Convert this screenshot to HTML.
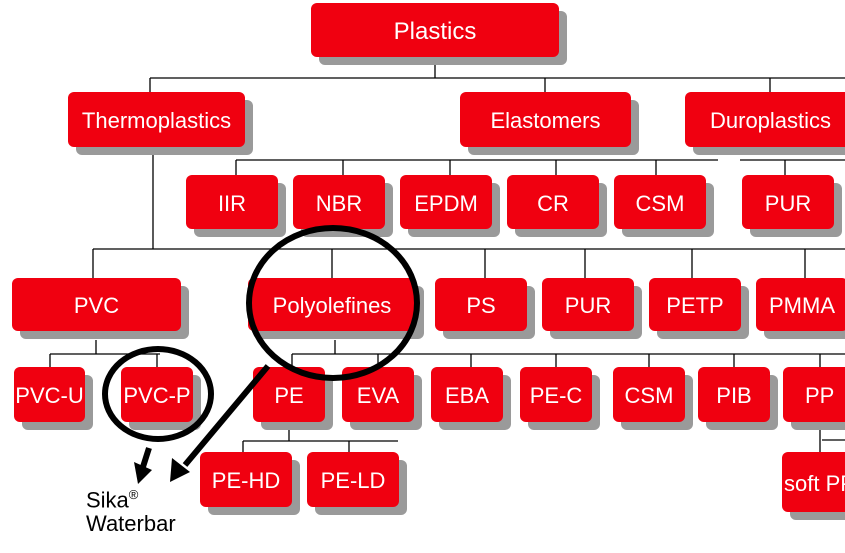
<!DOCTYPE html>
<html><head><meta charset="utf-8"><style>
body{margin:0;width:845px;height:553px;background:#fff;overflow:hidden;position:relative;font-family:"Liberation Sans",sans-serif}
.b{position:absolute;background:#f00010;color:#fff;border-radius:6px;display:flex;align-items:center;justify-content:center;font-size:22px;box-shadow:8px 8px 0 #9a9a9a;white-space:nowrap;overflow:hidden;padding-top:3px;box-sizing:border-box}
svg{position:absolute;left:0;top:0}
.t{position:absolute;font-size:22px;color:#000;line-height:28px}
</style></head><body>
<svg width="845" height="553" style="z-index:0">
<g stroke="#000" stroke-width="1.3" fill="none">
<path d="M435 57V78M150 78H845M150 78V92M545 78V92M770 78V92"/>
<path d="M236 160H718M236 160V175M343 160V175M450 160V175M556 160V175M656 160V175M740 160H845M785 160V175"/>
<path d="M153 155V249M93 249H845M93 249V278M332 249V278M485 249V278M585 249V278M692 249V278M805 249V278"/>
<path d="M96 340V354M50 354H160M50 354V367M157 354V367"/>
<path d="M335 340V354M292 354H845M292 354V367M378 354V367M471 354V367M556 354V367M649 354V367M734 354V367M820 354V367"/>
<path d="M289 430V441M243 441H398M243 441V452M349 441V452"/>
<path d="M820 430V452M822 440H845"/>
</g></svg>
<div class="b" style="left:311px;top:3px;width:248px;height:54px;font-size:24px">Plastics</div>
<div class="b" style="left:68px;top:92px;width:177px;height:55px">Thermoplastics</div>
<div class="b" style="left:460px;top:92px;width:171px;height:55px">Elastomers</div>
<div class="b" style="left:685px;top:92px;width:170px;height:55px;justify-content:flex-start;padding-left:25px">Duroplastics</div>
<div class="b" style="left:186px;top:175px;width:92px;height:54px">IIR</div>
<div class="b" style="left:293px;top:175px;width:92px;height:54px">NBR</div>
<div class="b" style="left:400px;top:175px;width:92px;height:54px">EPDM</div>
<div class="b" style="left:507px;top:175px;width:92px;height:54px">CR</div>
<div class="b" style="left:614px;top:175px;width:92px;height:54px">CSM</div>
<div class="b" style="left:742px;top:175px;width:92px;height:54px">PUR</div>
<div class="b" style="left:12px;top:278px;width:169px;height:53px">PVC</div>
<div class="b" style="left:248px;top:278px;width:168px;height:53px">Polyolefines</div>
<div class="b" style="left:435px;top:278px;width:92px;height:53px">PS</div>
<div class="b" style="left:542px;top:278px;width:92px;height:53px">PUR</div>
<div class="b" style="left:649px;top:278px;width:92px;height:53px">PETP</div>
<div class="b" style="left:756px;top:278px;width:92px;height:53px">PMMA</div>
<div class="b" style="left:14px;top:367px;width:71px;height:55px">PVC-U</div>
<div class="b" style="left:121px;top:367px;width:72px;height:55px">PVC-P</div>
<div class="b" style="left:253px;top:367px;width:72px;height:55px">PE</div>
<div class="b" style="left:342px;top:367px;width:72px;height:55px">EVA</div>
<div class="b" style="left:431px;top:367px;width:72px;height:55px">EBA</div>
<div class="b" style="left:520px;top:367px;width:72px;height:55px">PE-C</div>
<div class="b" style="left:613px;top:367px;width:72px;height:55px">CSM</div>
<div class="b" style="left:698px;top:367px;width:72px;height:55px">PIB</div>
<div class="b" style="left:783px;top:367px;width:72px;height:55px;justify-content:flex-start;padding-left:22px">PP</div>
<div class="b" style="left:200px;top:452px;width:92px;height:55px">PE-HD</div>
<div class="b" style="left:307px;top:452px;width:92px;height:55px">PE-LD</div>
<div class="b" style="left:782px;top:452px;width:90px;height:60px;justify-content:flex-start;padding-left:2px">soft PP</div>
<svg width="845" height="553" style="z-index:2">
<g stroke="#000" stroke-width="6" fill="none">
<ellipse cx="333" cy="303" rx="84" ry="75"/>
<ellipse cx="158" cy="394" rx="53" ry="45"/>
<path d="M149 448L142 470M268 366L185 465"/>
</g>
<polygon points="134,462 152,470 138,484" fill="#000"/>
<polygon points="172,458 190,472 170,482" fill="#000"/>
</svg>
<div class="t" style="left:86px;top:481px">Sika<sup style="font-size:13px">®</sup></div>
<div class="t" style="left:86px;top:510px">Waterbar</div>
</body></html>
